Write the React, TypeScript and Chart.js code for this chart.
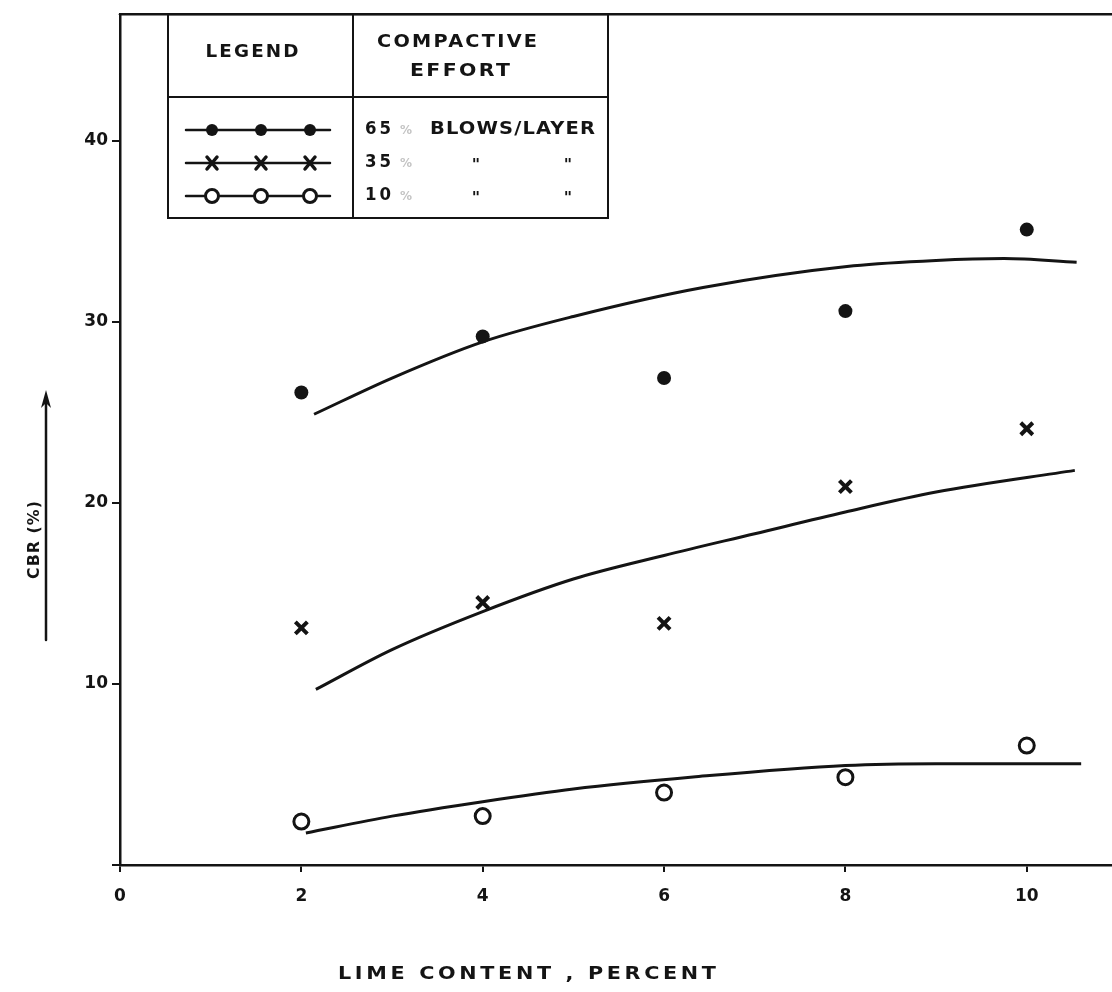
import React, { useEffect, useRef } from 'react';
import { Chart, registerables } from 'chart.js';

Chart.register(...registerables);

// Lime content (percent) at which specimens were tested
const limeContent = [2, 4, 6, 8, 10];
// Measured CBR (%) values
const cbr65 = [26.1, 29.2, 26.9, 30.6, 35.1];
const cbr35 = [13.1, 14.5, 13.35, 20.9, 24.1];
const cbr10 = [2.4, 2.7, 4.0, 4.85, 6.6];

// Hand-drawn trend curves
const curve65X = [2.14, 3, 4, 5, 6.43, 8.09, 9, 9.75, 10.55];
const curve65Y = [24.9, 26.9, 28.9, 30.3, 31.9, 33.1, 33.4, 33.5, 33.3];
const curve35X = [2.16, 3, 4, 5, 6, 7, 8, 9, 10.53];
const curve35Y = [9.7, 11.9, 14.0, 15.8, 17.1, 18.3, 19.5, 20.6, 21.8];
const curve10X = [2.05, 3, 4, 5, 6.32, 8, 9, 10, 10.6];
const curve10Y = [1.77, 2.7, 3.5, 4.2, 4.86, 5.5, 5.6, 5.6, 5.6];

// Axis ticks
const xTicks = [0, 2, 4, 6, 8, 10];
const yTicks = [0, 10, 20, 30, 40];

// Legend texts
const legendHeader = 'LEGEND';
const effortHeader = ['COMPACTIVE', 'EFFORT'];
const effortLabels = ['65', '35', '10'];
const effortUnit = 'BLOWS/LAYER';
const xTitle = 'LIME CONTENT , PERCENT';
const yTitle = 'CBR (%)';

const INK = '#141414';
const FONT = '"DejaVu Sans", "Liberation Sans", sans-serif';

// Draw text stretched horizontally to a target width, with a small fixed letter spacing
function fitText(
  ctx: CanvasRenderingContext2D,
  text: string,
  x: number,
  y: number,
  width: number,
  align: 'left' | 'center',
  spacing = 2
) {
  ctx.save();
  (ctx as any).letterSpacing = spacing + 'px';
  ctx.textAlign = 'left';
  const w = ctx.measureText(text).width - spacing;
  const k = width / w;
  const sx = align === 'center' ? x - width / 2 : x;
  ctx.translate(sx, y);
  ctx.scale(k, 1);
  ctx.fillText(text, 0, 0);
  ctx.restore();
}

export default function App() {
  const ref = useRef<HTMLCanvasElement>(null);

  useEffect(() => {
    document.body.style.margin = '0';
    const canvas = ref.current!;
    const pts = (xs: number[], ys: number[]) => xs.map((x, i) => ({ x, y: ys[i] }));

    const decor = {
      id: 'decor',
      beforeDraw(chart: any) {
        const ctx = chart.ctx as CanvasRenderingContext2D;
        ctx.save();
        ctx.fillStyle = '#fff';
        ctx.fillRect(0, 0, chart.width, chart.height);
        ctx.restore();
      },
      afterDraw(chart: any) {
        const ctx = chart.ctx as CanvasRenderingContext2D;
        const ca = chart.chartArea;
        ctx.save();
        ctx.strokeStyle = INK;
        ctx.fillStyle = INK;
        ctx.lineCap = 'round';

        // top border
        ctx.lineWidth = 2.5;
        ctx.beginPath();
        ctx.moveTo(ca.left, ca.top);
        ctx.lineTo(ca.right, ca.top);
        ctx.stroke();

        // legend table
        const L = 168, T = ca.top, R = 608, B = 218, C = 353, H = 97;
        ctx.lineWidth = 2;
        ctx.strokeRect(L, T, R - L, B - T);
        ctx.beginPath();
        ctx.moveTo(C, T); ctx.lineTo(C, B);
        ctx.moveTo(L, H); ctx.lineTo(R, H);
        ctx.stroke();

        ctx.textBaseline = 'middle';
        ctx.font = `bold 17px ${FONT}`;
        fitText(ctx, legendHeader, 252, 53, 93, 'center');
        fitText(ctx, effortHeader[0], 457, 43, 160, 'center');
        fitText(ctx, effortHeader[1], 460, 72, 100, 'center');

        const rowsY = [130, 163, 196];
        const mx = [212, 261, 310];
        rowsY.forEach((ry, i) => {
          ctx.lineWidth = 2.5;
          ctx.beginPath();
          ctx.moveTo(186, ry);
          ctx.lineTo(330, ry);
          ctx.stroke();
          mx.forEach((x) => {
            if (i === 0) {
              ctx.beginPath();
              ctx.arc(x, ry, 6, 0, Math.PI * 2);
              ctx.fill();
            } else if (i === 1) {
              ctx.lineWidth = 3.5;
              ctx.beginPath();
              ctx.moveTo(x - 5, ry - 6); ctx.lineTo(x + 5, ry + 6);
              ctx.moveTo(x + 5, ry - 6); ctx.lineTo(x - 5, ry + 6);
              ctx.stroke();
            } else {
              ctx.fillStyle = '#fff';
              ctx.lineWidth = 3;
              ctx.beginPath();
              ctx.arc(x, ry, 6.5, 0, Math.PI * 2);
              ctx.fill();
              ctx.stroke();
              ctx.fillStyle = INK;
            }
          });
          ctx.font = `bold 17px ${FONT}`;
          fitText(ctx, effortLabels[i], 365, ry, 26, 'left', 3);
          ctx.fillStyle = '#c4c4c4';
          ctx.font = `bold 12px ${FONT}`;
          ctx.textAlign = 'left';
          ctx.fillText('%', 400, ry + 1);
          ctx.fillStyle = INK;
          ctx.font = `bold 17px ${FONT}`;
          if (i === 0) {
            fitText(ctx, effortUnit, 430, ry, 165, 'left', 1);
          } else {
            ctx.font = `bold 16px ${FONT}`;
            ctx.textAlign = 'center';
            ctx.fillText('"', 476, ry + 3);
            ctx.fillText('"', 568, ry + 3);
          }
        });

        // x title
        ctx.font = `bold 17px ${FONT}`;
        fitText(ctx, xTitle, 527, 975, 378, 'center', 3);

        // y title, rotated
        ctx.save();
        ctx.translate(35, 540);
        ctx.rotate(-Math.PI / 2);
        ctx.font = `bold 15px ${FONT}`;
        fitText(ctx, yTitle, 0, 0, 78, 'center', 1);
        ctx.restore();

        // arrow
        ctx.lineWidth = 2.5;
        ctx.beginPath();
        ctx.moveTo(46, 640);
        ctx.lineTo(46, 400);
        ctx.stroke();
        ctx.beginPath();
        ctx.moveTo(46, 390);
        ctx.lineTo(41, 408);
        ctx.lineTo(46, 403);
        ctx.lineTo(51, 408);
        ctx.closePath();
        ctx.fill();

        ctx.restore();
      },
    };

    const curveStyle = {
      showLine: true,
      pointRadius: 0,
      borderColor: INK,
      borderWidth: 3,
      cubicInterpolationMode: 'monotone' as const,
      fill: false,
    };

    const chart = new Chart(canvas, {
      type: 'scatter',
      data: {
        datasets: [
          {
            label: '65 % blows/layer',
            data: pts(limeContent, cbr65),
            pointStyle: 'circle',
            pointRadius: 7,
            backgroundColor: INK,
            borderColor: INK,
            borderWidth: 0,
          },
          {
            label: '35 % blows/layer',
            data: pts(limeContent, cbr35),
            pointStyle: 'crossRot',
            pointRadius: 8.5,
            borderColor: INK,
            borderWidth: 4,
          },
          {
            label: '10 % blows/layer',
            data: pts(limeContent, cbr10),
            pointStyle: 'circle',
            pointRadius: 7.5,
            backgroundColor: '#fff',
            borderColor: INK,
            borderWidth: 3,
          },
          { label: 'fit 65', data: pts(curve65X, curve65Y), ...curveStyle },
          { label: 'fit 35', data: pts(curve35X, curve35Y), ...curveStyle },
          { label: 'fit 10', data: pts(curve10X, curve10Y), ...curveStyle },
        ] as any,
      },
      options: {
        responsive: false,
        maintainAspectRatio: false,
        animation: false,
        layout: { autoPadding: false, padding: { top: 12, right: 0, left: 0, bottom: 0 } },
        plugins: {
          legend: { display: false },
          tooltip: { enabled: false },
        },
        scales: {
          x: {
            type: 'linear',
            min: 0,
            max: 10.94,
            afterBuildTicks: (s: any) => {
              s.ticks = xTicks.map((v) => ({ value: v }));
            },
            afterFit: (s: any) => {
              s.height = 127;
            },
            grid: { display: true, drawOnChartArea: false, drawTicks: true, tickLength: 7, color: INK, lineWidth: 2 },
            border: { display: true, color: INK, width: 2.5 },
            ticks: {
              color: INK,
              padding: 14,
              maxRotation: 0,
              font: { family: FONT, weight: 'bold', size: 17 },
              callback: (v: any) => String(v),
            },
          },
          y: {
            type: 'linear',
            min: 0,
            max: 47,
            afterBuildTicks: (s: any) => {
              s.ticks = yTicks.map((v) => ({ value: v }));
            },
            afterFit: (s: any) => {
              s.width = 120;
            },
            grid: { display: true, drawOnChartArea: false, drawTicks: true, tickLength: 8, color: INK, lineWidth: 2 },
            border: { display: true, color: INK, width: 2.5 },
            ticks: {
              color: INK,
              padding: 4,
              font: { family: FONT, weight: 'bold', size: 17 },
              callback: (v: any) => (v === 0 ? '' : String(v)),
            },
          },
        },
      } as any,
      plugins: [decor],
    });

    return () => chart.destroy();
  }, []);

  return (
    <div style={{ position: 'absolute', left: 0, top: 0, width: 1112, height: 992, background: '#fff' }}>
      <canvas ref={ref} width={1112} height={992} style={{ display: 'block', width: 1112, height: 992 }} />
    </div>
  );
}
